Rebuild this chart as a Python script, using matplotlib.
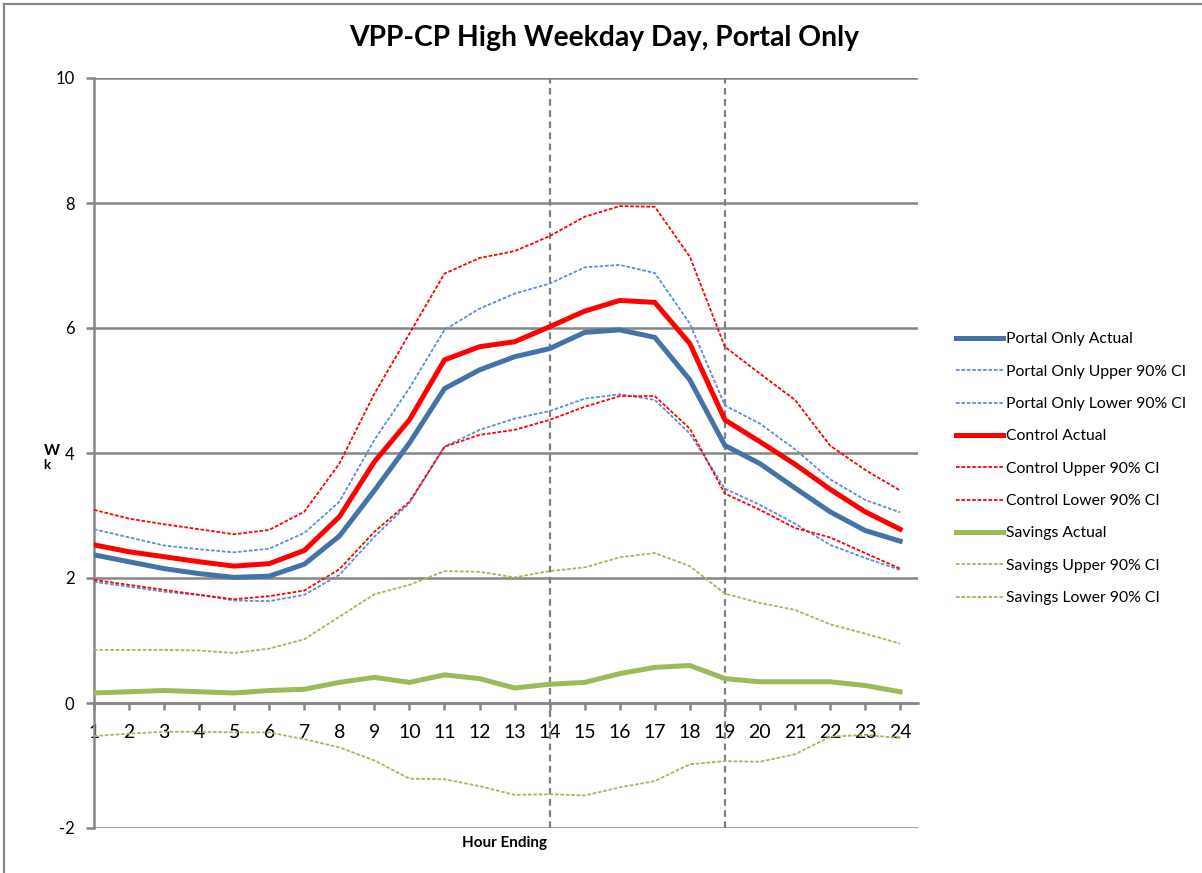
# -*- coding: utf-8 -*-

import matplotlib
matplotlib.use("Agg")
import matplotlib.pyplot as plt
from matplotlib.lines import Line2D

plt.rcParams["font.family"] = ["Lato", "DejaVu Sans"]

# =========================
# 数据
hours = list(range(1, 25))

portal_actual = [2.37, 2.26, 2.15, 2.07, 2.01, 2.03, 2.22, 2.67, 3.40, 4.16, 5.03, 5.33,
                 5.54, 5.67, 5.93, 5.97, 5.85, 5.17, 4.12, 3.83, 3.44, 3.06, 2.76, 2.59]
portal_upper = [2.78, 2.65, 2.52, 2.46, 2.41, 2.47, 2.72, 3.22, 4.21, 5.04, 5.97, 6.31,
                6.55, 6.71, 6.97, 7.01, 6.88, 6.07, 4.76, 4.47, 4.06, 3.58, 3.25, 3.05]
portal_lower = [1.94, 1.86, 1.78, 1.73, 1.64, 1.63, 1.73, 2.05, 2.66, 3.20, 4.10, 4.37,
                4.55, 4.67, 4.87, 4.94, 4.85, 4.31, 3.43, 3.17, 2.87, 2.53, 2.32, 2.13]

control_actual = [2.53, 2.42, 2.34, 2.26, 2.19, 2.23, 2.44, 2.98, 3.86, 4.53, 5.49, 5.70,
                  5.78, 6.02, 6.27, 6.44, 6.41, 5.75, 4.53, 4.18, 3.82, 3.42, 3.06, 2.78]
control_upper = [3.09, 2.95, 2.86, 2.78, 2.70, 2.77, 3.06, 3.83, 4.95, 5.91, 6.87, 7.12,
                 7.23, 7.47, 7.78, 7.95, 7.94, 7.14, 5.70, 5.27, 4.85, 4.12, 3.73, 3.40]
control_lower = [1.97, 1.89, 1.81, 1.73, 1.66, 1.71, 1.80, 2.14, 2.74, 3.22, 4.10, 4.29,
                 4.37, 4.53, 4.74, 4.91, 4.91, 4.39, 3.35, 3.09, 2.80, 2.65, 2.40, 2.15]

savings_actual = [0.16, 0.18, 0.20, 0.18, 0.16, 0.20, 0.22, 0.33, 0.41, 0.33, 0.45, 0.39,
                  0.24, 0.30, 0.33, 0.47, 0.57, 0.60, 0.39, 0.34, 0.34, 0.34, 0.28, 0.18]
savings_upper = [0.85, 0.85, 0.85, 0.84, 0.80, 0.87, 1.02, 1.38, 1.74, 1.89, 2.11, 2.10,
                 2.01, 2.11, 2.17, 2.33, 2.40, 2.19, 1.75, 1.60, 1.49, 1.26, 1.11, 0.95]
savings_lower = [-0.53, -0.49, -0.46, -0.46, -0.47, -0.47, -0.58, -0.71, -0.92, -1.21, -1.22, -1.33,
                 -1.47, -1.46, -1.48, -1.35, -1.25, -0.98, -0.93, -0.94, -0.82, -0.54, -0.51, -0.56]

event_hours = [14, 19]
y_ticks = [-2, 0, 2, 4, 6, 8, 10]

BLUE = "#4572a7"
BLUE_CI = "#5b8fd0"
RED = "#ff0000"
GREEN = "#9bbb59"
GRID = "#868686"

# =========================
# 画布
fig = plt.figure(figsize=(12.02, 8.73), dpi=100)
ax = fig.add_axes([94 / 1202, 45 / 873, 824 / 1202, 750 / 873])

# 外框
fig.add_artist(Line2D([4 / 1202, 4 / 1202], [0, 1 - 4 / 873], transform=fig.transFigure,
                      color=GRID, lw=1.6))
fig.add_artist(Line2D([4 / 1202, 1], [1 - 4 / 873, 1 - 4 / 873], transform=fig.transFigure,
                      color=GRID, lw=1.6))

series = [
    (portal_actual, "Portal Only Actual", BLUE, 3.6, "-"),
    (portal_upper, "Portal Only Upper 90% CI", BLUE_CI, 1.3, (0, (2, 1))),
    (portal_lower, "Portal Only Lower 90% CI", BLUE_CI, 1.3, (0, (2, 1))),
    (control_actual, "Control Actual", RED, 3.6, "-"),
    (control_upper, "Control Upper 90% CI", RED, 1.3, (0, (2, 1))),
    (control_lower, "Control Lower 90% CI", RED, 1.3, (0, (2, 1))),
    (savings_actual, "Savings Actual", GREEN, 3.6, "-"),
    (savings_upper, "Savings Upper 90% CI", GREEN, 1.3, (0, (2, 1))),
    (savings_lower, "Savings Lower 90% CI", GREEN, 1.3, (0, (2, 1))),
]

for vals, label, color, lw, ls in series:
    ax.plot(hours, vals, color=color, lw=lw, ls=ls, label=label, zorder=3,
            solid_joinstyle="miter")

for h in event_hours:
    ax.axvline(h, color="#7f7f7f", lw=1.6, ls=(0, (3, 2)), zorder=2)

for y in y_ticks:
    ax.axhline(y, color=GRID, lw=1.8, zorder=1)

# 坐标轴 (先移动 x 轴位置, 再设刻度)
for s in ["top", "right"]:
    ax.spines[s].set_visible(False)
ax.spines["left"].set_color(GRID)
ax.spines["left"].set_linewidth(1.8)
ax.spines["bottom"].set_position(("data", 0))
ax.spines["bottom"].set_color(GRID)
ax.spines["bottom"].set_linewidth(1.8)

ax.set_xlim(1, 24.51)
ax.set_ylim(-2, 10)
ax.set_yticks(y_ticks)
ax.set_yticklabels([str(v) for v in y_ticks])
ax.set_xticks(hours)
ax.set_xticklabels([str(h) for h in hours])

ax.tick_params(axis="x", direction="out", length=5, width=1.8, color=GRID, pad=10,
               labelsize=14)
ax.tick_params(axis="y", direction="out", length=6, width=1.8, color=GRID, pad=8,
               labelsize=12)

# 标题与轴标签
fig.text(604 / 1202, 1 - 38 / 873, "VPP-CP High Weekday Day, Portal Only",
         ha="center", va="center", fontsize=20.3, fontweight="bold")
fig.text(505 / 1202, 1 - 843 / 873, "Hour Ending", ha="center", va="center",
         fontsize=11, fontweight="bold")
fig.text(52 / 1202, 1 - 451 / 873, "W", ha="center", va="center", fontsize=11, fontweight="bold")
fig.text(47 / 1202, 1 - 465 / 873, "k", ha="center", va="center", fontsize=9.5, fontweight="bold")

# 图例
fig.legend(loc="upper left", bbox_to_anchor=(950 / 1202, 1 - 326 / 873), frameon=False,
           fontsize=11.3, handlelength=3.0, handletextpad=0.15, labelspacing=1.17,
           borderaxespad=0)

fig.savefig("out.png", dpi=100)
